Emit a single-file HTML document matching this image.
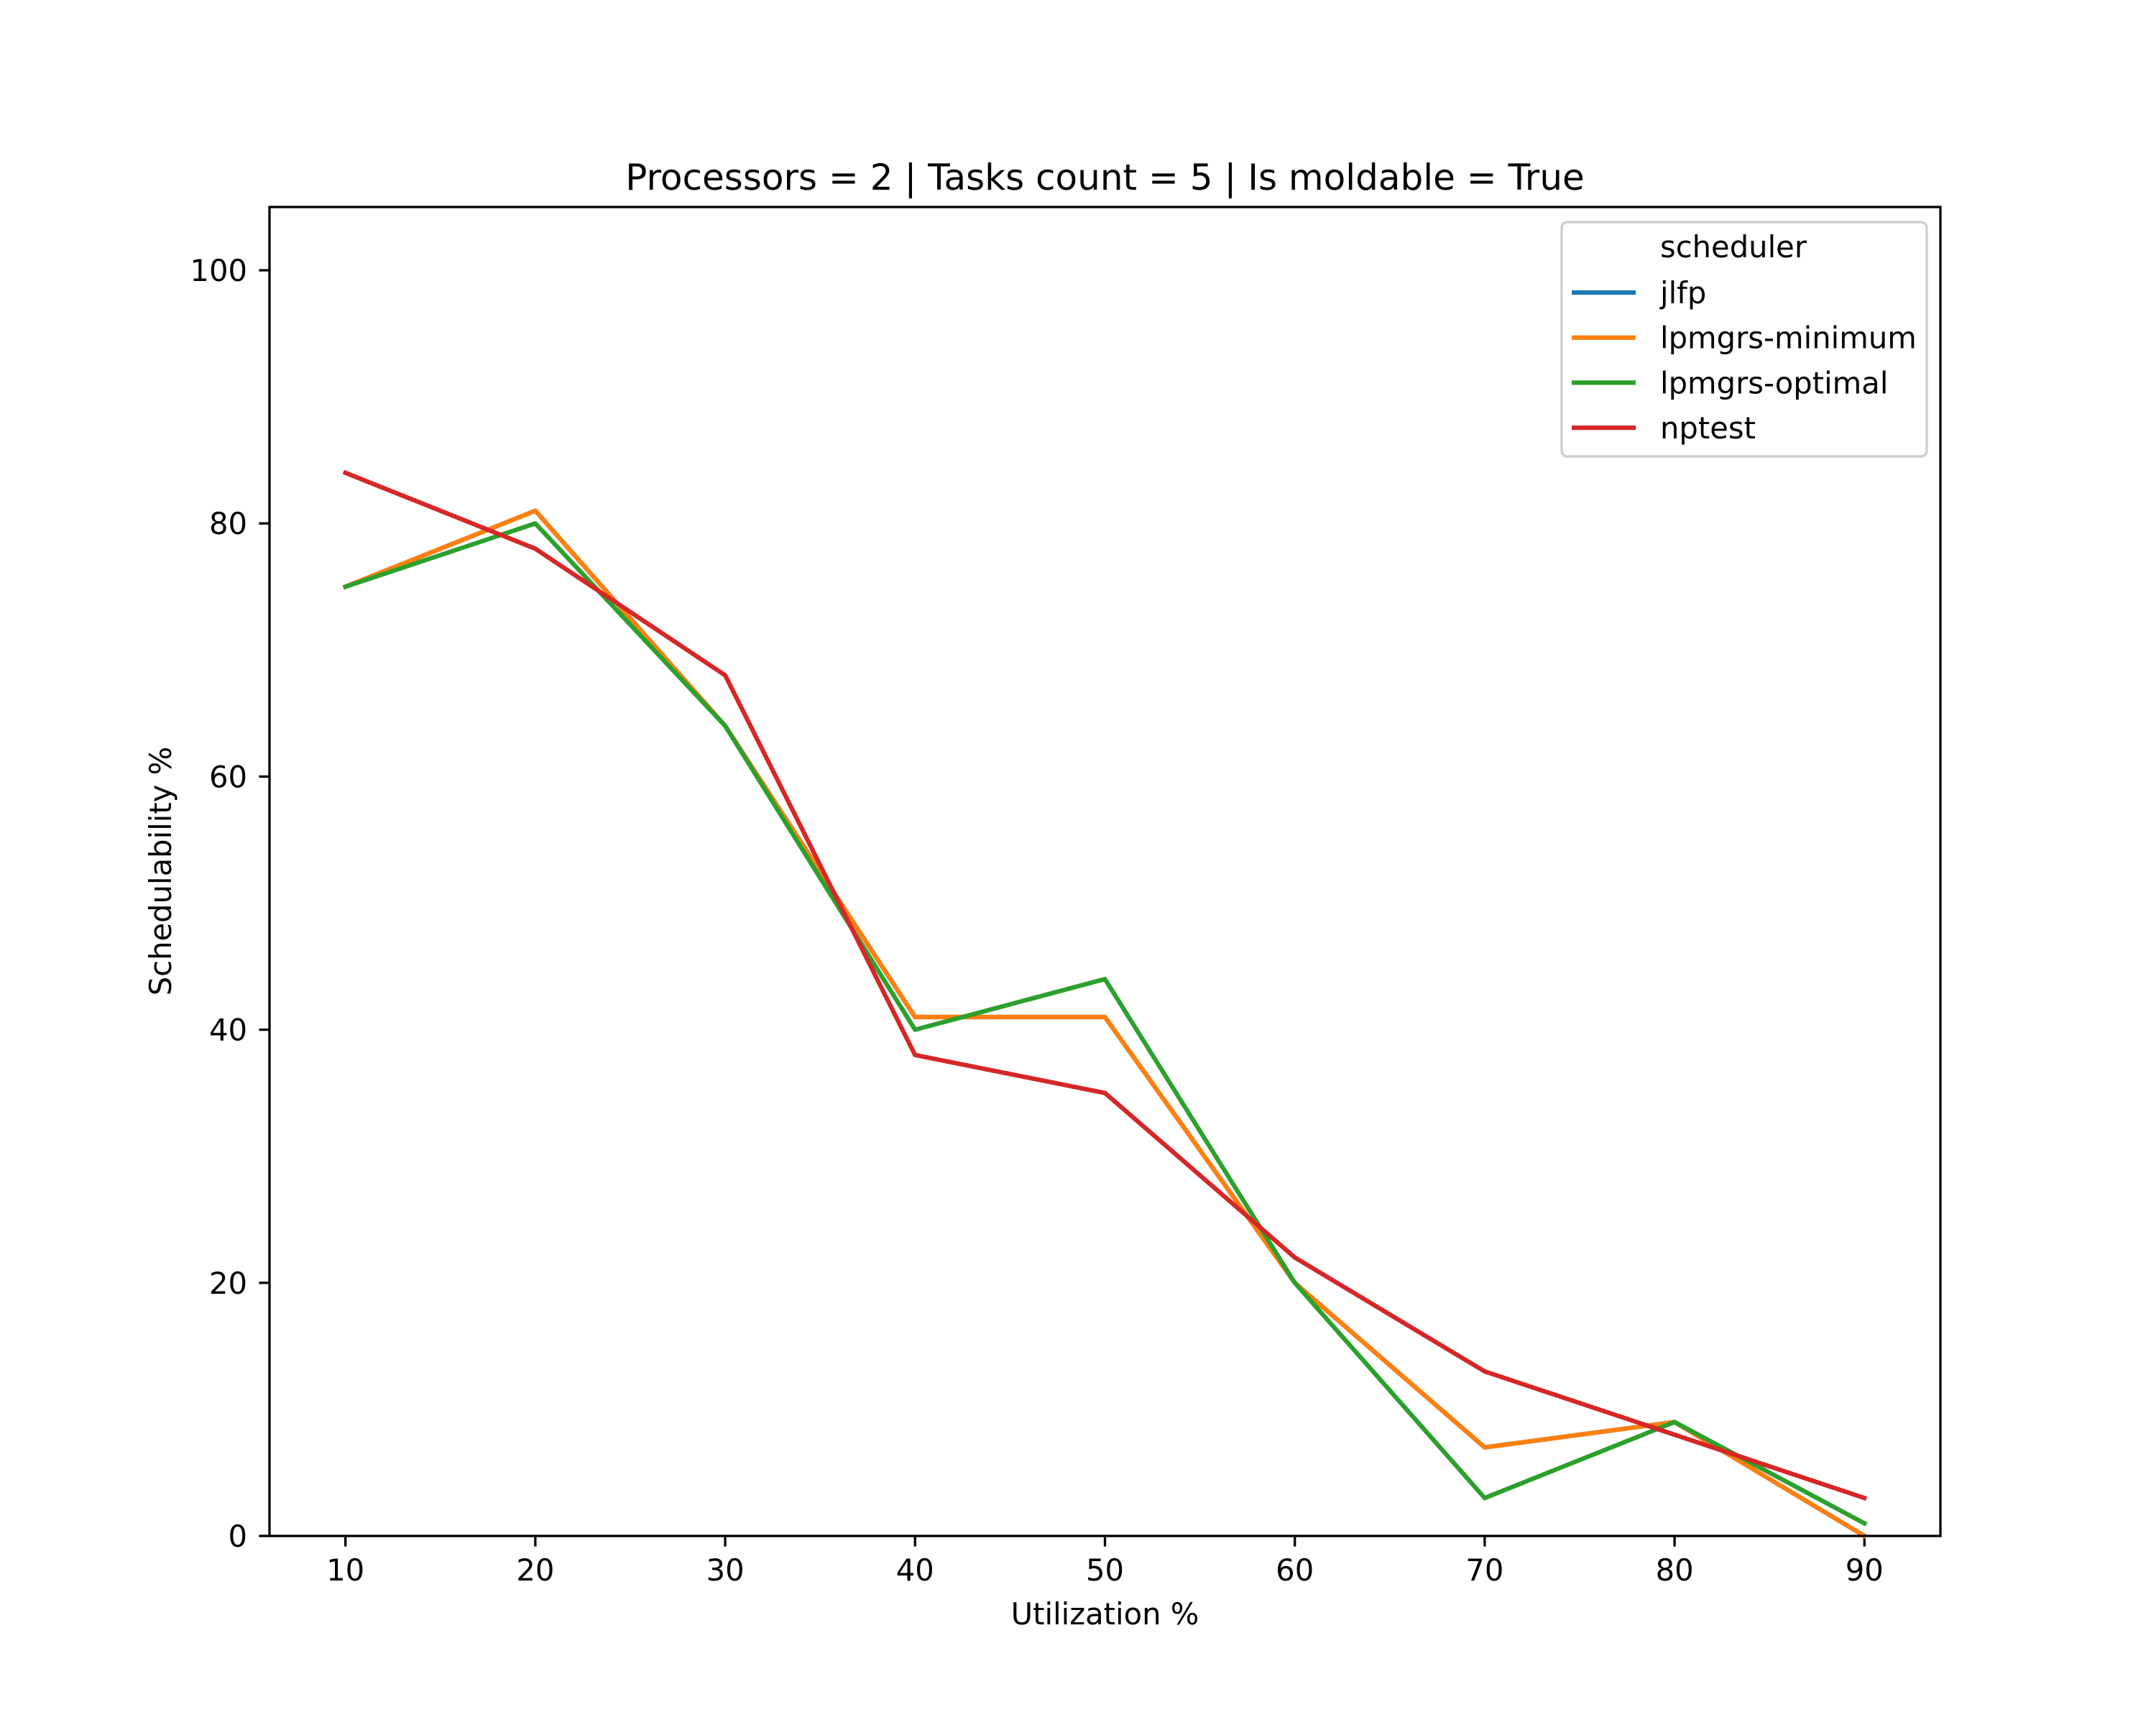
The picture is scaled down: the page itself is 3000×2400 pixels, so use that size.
<!DOCTYPE html>
<html><head><meta charset="utf-8"><style>
html,body{margin:0;padding:0;background:#fff;}
svg{display:block;font-family:"DejaVu Sans","Liberation Sans",sans-serif;}
</style></head><body>
<svg id="chart" width="3000" height="2400" viewBox="0 0 3000 2400" xmlns="http://www.w3.org/2000/svg">
<rect width="3000" height="2400" fill="#fff"/>
<text x="1537.5" y="264" font-size="50" text-anchor="middle">Processors = 2 | Tasks count = 5 | Is moldable = True</text>
<g id="ticks"></g>
<g id="lines"></g>
<rect x="375" y="288" width="2325" height="1849" fill="none" stroke="#000" stroke-width="3.3"/>
<text x="1537.5" y="2260" font-size="41.7" text-anchor="middle">Utilization %</text>
<text transform="translate(238,1212) rotate(-90)" font-size="41.7" text-anchor="middle">Schedulability %</text>
<g id="legend">
<rect x="2173" y="309" width="508" height="326" rx="8" fill="#fff" fill-opacity="0.8" stroke="#cccccc" stroke-width="3.3"/>
<text x="2310" y="358" font-size="41.7">scheduler</text>
</g>
</svg>
<script>
const categories = [10, 20, 30, 40, 50, 60, 70, 80, 90];
const jlfp = [75, 81, 64, 41, 41, 20, 7, 9, 0];
const lpmgrsMinimum = [75, 81, 64, 41, 41, 20, 7, 9, 0];
const lpmgrsOptimal = [75, 80, 64, 40, 44, 20, 3, 9, 1];
const nptest = [84, 78, 68, 38, 35, 22, 13, 8, 3];
const xTicks = [10, 20, 30, 40, 50, 60, 70, 80, 90];
const yTicks = [0, 20, 40, 60, 80, 100];
const seriesNames = ["jlfp", "lpmgrs-minimum", "lpmgrs-optimal", "nptest"];

const NS = "http://www.w3.org/2000/svg";
const L = 375, R = 2700, T = 288, B = 2137;
const X0 = 6, X1 = 94, Y0 = 0, Y1 = 105;
function xs(v){ return L + (v - X0) / (X1 - X0) * (R - L); }
function ys(v){ return B - (v - Y0) / (Y1 - Y0) * (B - T); }
function mk(tag, attrs){ const e = document.createElementNS(NS, tag); for (const k in attrs) e.setAttribute(k, attrs[k]); return e; }

const tg = document.getElementById("ticks");
xTicks.forEach(v => {
  const t = mk("line", {x1: xs(v), x2: xs(v), y1: B, y2: B + 14.6, stroke: "#000", "stroke-width": 3.3});
  
  
  tg.appendChild(t);
  const l = mk("text", {x: xs(v), y: B + 62, "font-size": 41.7, "text-anchor": "middle"});
  l.textContent = v;
  
  
  tg.appendChild(l);
});
yTicks.forEach(v => {
  const t = mk("line", {x1: L - 14.6, x2: L, y1: ys(v), y2: ys(v), stroke: "#000", "stroke-width": 3.3});
  
  
  tg.appendChild(t);
  const l = mk("text", {x: L - 31, y: ys(v) + 15, "font-size": 41.7, "text-anchor": "end"});
  l.textContent = v;
  
  
  tg.appendChild(l);
});

const colors = ["#1f77b4", "#ff7f0e", "#2ca02c", "#d62728"];
const data = [jlfp, lpmgrsMinimum, lpmgrsOptimal, nptest];
const lg = document.getElementById("lines");
const leg = document.getElementById("legend");
data.forEach((vals, i) => {
  const pts = vals.map((v, j) => xs(categories[j]) + "," + ys(v)).join(" ");
  const p = mk("polyline", {points: pts, fill: "none", stroke: colors[i], "stroke-width": 6.25, "stroke-linejoin": "round", "stroke-linecap": "square"});
  
  
  lg.appendChild(p);
  const yy = 407 + i * 62.7;
  const h = mk("line", {x1: 2187, x2: 2276, y1: yy, y2: yy, stroke: colors[i], "stroke-width": 6.25});
  
  
  leg.appendChild(h);
  const t = mk("text", {x: 2310, y: yy + 15, "font-size": 41.7});
  t.textContent = seriesNames[i];
  
  
  leg.appendChild(t);
});
</script>
</body></html>
